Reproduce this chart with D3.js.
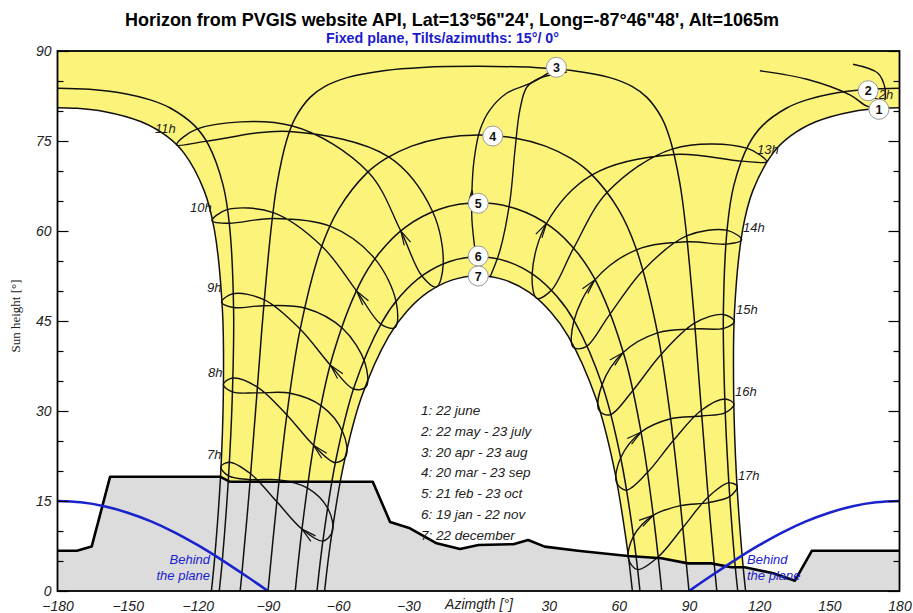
<!DOCTYPE html>
<html><head><meta charset="utf-8">
<script src="https://cdn.jsdelivr.net/npm/d3@7"></script>
<style>
body{margin:0;background:#fff;}
svg{display:block;}
text{font-family:"Liberation Sans",Arial,sans-serif;}
</style></head><body>
<svg id="chart" width="913" height="613"></svg>
<script>
// ---------------- DATA (azimuth [deg], sun height [deg]) ----------------
const titleText = "Horizon from PVGIS website API, Lat=13°56\"24', Long=-87°46\"48', Alt=1065m";
const subtitleText = "Fixed plane, Tilts/azimuths: 15°/ 0°";
const xTicks = [-180,-150,-120,-90,-60,-30,30,60,90,120,150,180];
const yTicks = [0,15,30,45,60,75,90];
const yMinorTicks = [5,10,20,25,35,40,50,55,65,70,80,85];

const legendLines = ["1: 22 june","2: 22 may - 23 july","3: 20 apr - 23 aug","4: 20 mar - 23 sep","5: 21 feb - 23 oct","6: 19 jan - 22 nov","7: 22 december"];
const loopDates = ["22 jun","23 jul","23 aug","23 sep","23 oct","22 nov","22 dec","19 jan","21 feb","20 mar","20 apr","22 may"];

// horizon profile
const horizon = [[-180,6.7],[-171.7,6.7],[-165.4,7.4],[-157.5,19.05],[-110.5,19.05],[-106.2,18.2],[-45.2,18.2],[-37.8,11.5],[-29.3,10.45],[-17.9,7.95],[-7.9,7.0],[0,7.67],[14.9,7.8],[21.2,8.5],[28.3,7.4],[42.5,6.7],[63.9,5.83],[78.2,5.45],[89.6,4.6],[99.5,4.6],[108.1,3.95],[113.8,3.95],[126,2.95],[135.3,1.72],[142.5,6.7],[180,6.7]];

// plane limit ("behind the plane")
const planeWest = [[-180,15],[-170,14.78],[-160,14.13],[-150,13.05],[-140,11.6],[-130,9.78],[-120,7.63],[-110,5.23],[-100,2.66],[-90,0]];
const planeEast = [[90,0],[100,2.66],[110,5.23],[120,7.63],[130,9.78],[140,11.6],[150,13.05],[160,14.13],[170,14.78],[180,15]];

// day paths
const day1Morning = [[-114.2,0],[-112.8,5.52],[-110.3,19.06],[-109.1,32.78],[-109.45,46.53],[-112.9,60.13],[-117.3,66.73],[-125.9,72.98],[-133.3,75.8],[-144.2,78.2],[-160.2,79.93],[-172.3,80.46],[-180,80.56]];
const day1Evening = [[180,80.56],[172.3,80.46],[160.2,79.93],[144.2,78.2],[133.3,75.8],[125.9,72.98],[117.3,66.73],[112.9,60.13],[109.45,46.53],[109.1,32.78],[110.3,19.06],[112.8,5.52],[114.2,0]];
const day2Morning = [[-110.85,0],[-109.6,4.79],[-106.95,18.6],[-105.25,32.6],[-104.7,46.67],[-106.4,60.7],[-109.2,67.65],[-115.5,74.4],[-121.5,77.6],[-131.8,80.5],[-140.3,81.85],[-150.5,82.84],[-166.3,83.61],[-180,83.8]];
const day2Evening = [[180,83.8],[166.3,83.61],[150.5,82.84],[140.3,81.85],[131.8,80.5],[121.5,77.6],[115.5,74.4],[109.2,67.65],[106.4,60.7],[104.7,46.67],[105.25,32.6],[106.95,18.6],[109.6,4.79],[110.85,0]];
const day3 = [[-101.9,0],[-101.2,2.76],[-97.9,17.12],[-95.0,31.57],[-92.1,46.1],[-88.6,60.63],[-86.1,67.93],[-82,75.16],[-78.5,78.74],[-72,82.27],[-65.8,84.06],[-56.2,85.56],[-39.8,86.76],[-24,87.26],[0,87.44],[24,87.26],[39.8,86.76],[56.2,85.56],[65.8,84.06],[72,82.27],[78.5,78.74],[82,75.16],[86.1,67.93],[88.6,60.63],[92.1,46.1],[95.0,31.57],[97.9,17.12],[101.2,2.76],[101.9,0]];
const day4 = [[-90,0],[-86.3,14.54],[-82.05,29.03],[-76.4,43.32],[-67.3,57.17],[-59.7,63.69],[-47.9,69.6],[-39.5,72.09],[-28.6,74.15],[-15.4,75.5],[0,76],[15.4,75.5],[28.6,74.15],[39.5,72.09],[47.9,69.6],[59.7,63.69],[67.3,57.17],[76.4,43.32],[82.05,29.03],[86.3,14.54],[90,0]];
const day5 = [[-78.35,0],[-75.1,11.47],[-70.0,25.37],[-62.7,38.71],[-51.1,50.95],[-42.5,56.28],[-31.2,60.66],[-16.7,63.63],[0,64.7],[16.7,63.63],[31.2,60.66],[42.5,56.28],[51.1,50.95],[62.7,38.71],[70.0,25.37],[75.1,11.47],[78.35,0]];
const day6 = [[-69.05,0],[-66.4,8.72],[-61.0,21.79],[-53.15,34.03],[-41.3,44.77],[-33.3,49.19],[-23.6,52.68],[-12.3,54.92],[0,55.7],[12.3,54.92],[23.6,52.68],[33.3,49.19],[41.3,44.77],[53.15,34.03],[61.0,21.79],[66.4,8.72],[69.05,0]];
const day7 = [[-65.8,0],[-63.4,7.71],[-58.0,20.43],[-50.1,32.23],[-38.4,42.44],[-30.7,46.58],[-21.6,49.8],[-11.1,51.86],[0,52.56],[11.1,51.86],[21.6,49.8],[30.7,46.58],[38.4,42.44],[50.1,32.23],[58.0,20.43],[63.4,7.71],[65.8,0]];

// hour loops (analemmas), points in loopDates order
const h07 = [[-110.16,20.69],[-106.88,19.19],[-97.61,18.57],[-85.13,18.53],[-73.02,17.15],[-64.34,13.71],[-62.44,9.97],[-66.52,8.32],[-75.43,10.31],[-86.21,14.86],[-97.42,19.53],[-106.6,21.47]];
const h08 = [[-109.14,34.41],[-105.23,33.19],[-94.71,33.02],[-80.49,32.96],[-67.02,30.82],[-58.0,26.47],[-56.6,22.52],[-61.16,21.4],[-70.41,24.24],[-81.93,29.34],[-94.52,33.99],[-105.14,35.49]];
const h09 = [[-109.86,48.14],[-104.77,47.26],[-91.75,47.55],[-73.89,47.13],[-57.96,43.71],[-48.62,38.13],[-48.03,34.04],[-53.39,33.66],[-63.29,37.63],[-76.2,43.62],[-91.52,48.52],[-105.05,49.55]];
const h10 = [[-113.94,61.7],[-106.64,61.28],[-88.1,62.09],[-63.48,60.81],[-44.28,55.36],[-35.19,48.15],[-35.67,43.91],[-41.66,44.45],[-52.04,49.95],[-66.97,57.46],[-87.77,63.06],[-107.55,63.55]];
const h11 = [[-129.0,74.35],[-116.51,74.94],[-80.8,76.59],[-38.4,72.34],[-19.6,63.21],[-15.1,54.52],[-18.0,50.67],[-24.18,52.49],[-33.25,60.02],[-47.2,69.83],[-79.9,77.54],[-120.2,77.03]];
const h13 = [[123.2,71.54],[114.7,73.8],[83.1,73.7],[55.06,66.45],[40.67,57.14],[31.15,50.11],[24.94,48.78],[22.94,52.84],[29.05,61.25],[48.57,69.36],[83.7,72.76],[112.25,71.65]];
const h14 = [[112.49,58.52],[106.33,60.11],[88.95,59.18],[70.33,53.43],[55.84,45.95],[45.83,40.67],[40.47,40.63],[40.82,45.04],[49.7,51.82],[67.5,56.87],[89.18,58.21],[106.05,57.82]];
const h15 = [[109.41,44.9],[104.72,46.08],[92.39,44.65],[77.96,39.39],[65.68,33.26],[56.15,29.35],[51.5,30.14],[52.79,34.35],[61.76,39.71],[76.52,43.01],[92.58,43.68],[104.81,43.78]];
const h16 = [[109.24,31.15],[105.32,32.01],[95.29,30.13],[83.22,25.04],[72.08,19.69],[63.06,16.8],[58.96,18.18],[60.76,22.16],[69.41,26.45],[82.14,28.71],[95.48,29.16],[105.6,29.73]];
const h17 = [[110.6,17.45],[107.06,18.02],[98.23,15.68],[87.32,10.54],[76.75,5.66],[67.97,3.57],[64.13,5.38],[66.24,9.11],[74.69,12.6],[86.38,14.22],[98.45,14.73],[107.49,15.76]];

// 12h loop near the zenith (pieces as seen)
const h12West = [[0.2,52.5],[-1.1,55.7],[-2.8,61.8],[-2.8,66.8],[-1.9,71.8],[0.6,76.8],[4.9,80.2],[12.2,83.0],[23.3,84.8],[33.6,87.3]];
const h12East = [[4.9,52.3],[9.2,56.8],[13.5,65.2],[15.6,73.5],[17.7,80.2],[20.7,84.0],[26.3,85.5],[37.8,86.5]];
const h12NorthA = [[120.3,86.7],[140.4,85.3],[158.8,82.7],[166.1,80.8],[170.8,80.5]];
const h12NorthB = [[160.1,87.8],[170.8,86.3],[173.8,83.8],[173.8,81.8]];

const hourNames = ["7h","8h","9h","10h","11h","12h","13h","14h","15h","16h","17h"];
const hourLabelAnchor = [[-116.1,22.0],[-115.6,35.67],[-116.1,49.83],[-123.3,63.17],[-138.3,76.33],[168.0,82.0],[119.1,72.83],[113.1,59.83],[110.1,46.17],[109.7,32.5],[110.9,18.5]];

const markerIds = ["1","2","3","4","5","6","7"];
const markerPos = [[171.2,80.28],[166.6,83.38],[33.3,87.28],[6.1,75.83],[-0.1,64.62],[-0.1,55.83],[-0.1,52.5]];

// ---------------- DRAWING ----------------
const svg = d3.select("#chart");
const x = d3.scaleLinear().domain([-180,180]).range([57.5,899.5]);
const y = d3.scaleLinear().domain([0,90]).range([591,51]);
const P = d => [x(d[0]), y(d[1])];

svg.append("rect").attr("width",913).attr("height",613).attr("fill","#fff");

svg.append("defs").append("clipPath").attr("id","plotclip")
  .append("rect").attr("x",x(-180)).attr("y",y(90)).attr("width",x(180)-x(-180)).attr("height",y(0)-y(90));

const plot = svg.append("g").attr("clip-path","url(#plotclip)");

const straight = d3.line().x(d=>x(d[0])).y(d=>y(d[1]));
const smooth = d3.line().x(d=>x(d[0])).y(d=>y(d[1])).curve(d3.curveCatmullRom.alpha(0.5));
const closed = d3.line().x(d=>x(d[0])).y(d=>y(d[1])).curve(d3.curveCatmullRomClosed.alpha(0.5));
const cont = s => s.replace("M","L");

// yellow sun band
const yellowPath = straight([[-180,90],[-180,80.56]])
  + cont(smooth(day1Morning.slice().reverse()))
  + cont(smooth(day7))
  + cont(smooth(day1Evening.slice().reverse()))
  + cont(straight([[180,80.56],[180,90]])) + "Z";
plot.append("path").attr("d",yellowPath).attr("fill","#fcf47a").attr("stroke","none");

// horizon grey area
plot.append("path").datum(horizon)
  .attr("d", d3.area().x(d=>x(d[0])).y0(y(0)).y1(d=>y(d[1])))
  .attr("fill","#dcdcdc");

// day paths
const dayCurves = [day1Morning, day1Evening, day2Morning, day2Evening, day3, day4, day5, day6, day7];
plot.selectAll("path.day").data(dayCurves).enter().append("path")
  .attr("class","day").attr("d", d=>smooth(d))
  .attr("fill","none").attr("stroke","#111").attr("stroke-width",1.5);

// hour loops
const loops = [h07,h08,h09,h10,h11,h13,h14,h15,h16,h17];
plot.selectAll("path.loop").data(loops).enter().append("path")
  .attr("class","loop").attr("d", d=>closed(d))
  .attr("fill","none").attr("stroke","#111").attr("stroke-width",1.4);
plot.selectAll("path.noon").data([h12West,h12East,h12NorthA,h12NorthB]).enter().append("path")
  .attr("class","noon").attr("d", d=>smooth(d))
  .attr("fill","none").attr("stroke","#111").attr("stroke-width",1.4);

// arrows (at 21 feb, pointing towards 20 mar)
function arrowPath(tip, from, to){
  const t = P(tip), a = P(from), b = P(to);
  const ang = Math.atan2(b[1]-a[1], b[0]-a[0]);
  const L = 15, w = 0.24;
  const p1 = [t[0]-L*Math.cos(ang-w), t[1]-L*Math.sin(ang-w)];
  const p2 = [t[0]-L*Math.cos(ang+w), t[1]-L*Math.sin(ang+w)];
  return "M"+p1+"L"+t+"L"+p2;
}
const arrowSpecs = loops.map(l => [l[8], l[7], l[9]]);
arrowSpecs.push([h12West[3], h12West[2], h12West[4]]);
plot.selectAll("path.arrow").data(arrowSpecs).enter().append("path")
  .attr("d", d=>arrowPath(d[0],d[1],d[2]))
  .attr("fill","none").attr("stroke","#111").attr("stroke-width",1.2);

// horizon line
plot.append("path").datum(horizon).attr("d",straight)
  .attr("fill","none").attr("stroke","#000").attr("stroke-width",2.6).attr("stroke-linejoin","round");

// plane limit
plot.selectAll("path.plane").data([planeWest, planeEast]).enter().append("path")
  .attr("d", d=>smooth(d)).attr("fill","none").attr("stroke","#1a22cc").attr("stroke-width",2.6);

// frame
svg.append("rect").attr("x",x(-180)).attr("y",y(90)).attr("width",x(180)-x(-180)).attr("height",y(0)-y(90))
  .attr("fill","none").attr("stroke","#000").attr("stroke-width",1.8);

// axes
const axStyle = g => { g.select(".domain").remove();
  g.selectAll("text").attr("font-size",14).attr("font-style","italic").attr("fill","#222").attr("font-family","Liberation Sans, Arial, sans-serif");
  g.selectAll("line").attr("stroke","#000").attr("stroke-width",1.2); };
svg.append("g").attr("transform",`translate(${x(-180)},0)`)
  .call(d3.axisLeft(y).tickValues(yTicks).tickSize(-11).tickPadding(6).tickFormat(d3.format("d"))).call(axStyle);
svg.append("g").attr("transform",`translate(${x(-180)},0)`)
  .call(d3.axisLeft(y).tickValues(yMinorTicks).tickSize(-6).tickFormat("")).call(axStyle);
svg.append("g").attr("transform",`translate(${x(180)},0)`)
  .call(d3.axisRight(y).tickValues(yTicks).tickSize(-11).tickFormat("")).call(axStyle);
svg.append("g").attr("transform",`translate(${x(180)},0)`)
  .call(d3.axisRight(y).tickValues(yMinorTicks).tickSize(-6).tickFormat("")).call(axStyle);
svg.append("g").attr("transform",`translate(0,${y(0)})`)
  .call(d3.axisBottom(x).tickValues(xTicks).tickSize(0).tickPadding(10).tickFormat(d3.format("d"))).call(axStyle);

// axis titles
svg.append("text").attr("x",479).attr("y",609).attr("text-anchor","middle")
  .attr("font-size",14).attr("font-style","italic").attr("fill","#222").text("Azimgth [°]");
svg.append("text").attr("transform","translate(20,316) rotate(-90)").attr("text-anchor","middle")
  .attr("font-size",13).attr("fill","#222").style("font-family","'Liberation Serif','Times New Roman',serif").text("Sun height [°]");

// titles
svg.append("text").attr("x",125).attr("y",26).attr("font-size",18.5).attr("font-weight","bold").attr("fill","#000")
  .attr("textLength",654).attr("lengthAdjust","spacingAndGlyphs").text(titleText);
svg.append("text").attr("x",326).attr("y",43).attr("font-size",14).attr("font-weight","bold").attr("fill","#1a1acc")
  .attr("textLength",233).attr("lengthAdjust","spacingAndGlyphs").text(subtitleText);

// hour labels
svg.selectAll("text.hl").data(hourNames).enter().append("text").attr("class","hl")
  .attr("x",(d,i)=>x(hourLabelAnchor[i][0])).attr("y",(d,i)=>y(hourLabelAnchor[i][1]))
  .attr("font-size",13).attr("font-style","italic").attr("fill","#222").text(d=>d);

// markers
const mk = svg.selectAll("g.mk").data(markerIds).enter().append("g").attr("class","mk")
  .attr("transform",(d,i)=>`translate(${x(markerPos[i][0])},${y(markerPos[i][1])})`);
mk.append("circle").attr("r",10).attr("fill","#fff").attr("stroke","#999").attr("stroke-width",1);
mk.append("text").attr("text-anchor","middle").attr("dy","0.36em").attr("font-size",12.5).attr("font-weight","bold").attr("fill","#111").text(d=>d);

// legend
svg.selectAll("text.lg").data(legendLines).enter().append("text").attr("class","lg")
  .attr("x",421).attr("y",(d,i)=>415+i*20.8)
  .attr("font-size",13.5).attr("font-style","italic").attr("fill","#222").text(d=>d);

// behind the plane labels
const blue = "#1a22cc";
svg.append("text").attr("x",210).attr("y",564).attr("text-anchor","end").attr("font-size",13).attr("font-style","italic").attr("fill",blue).text("Behind");
svg.append("text").attr("x",210).attr("y",580).attr("text-anchor","end").attr("font-size",13).attr("font-style","italic").attr("fill",blue).text("the plane");
svg.append("text").attr("x",747).attr("y",564).attr("font-size",13).attr("font-style","italic").attr("fill",blue).text("Behind");
svg.append("text").attr("x",747).attr("y",580).attr("font-size",13).attr("font-style","italic").attr("fill",blue).text("the plane");
</script></body></html>
